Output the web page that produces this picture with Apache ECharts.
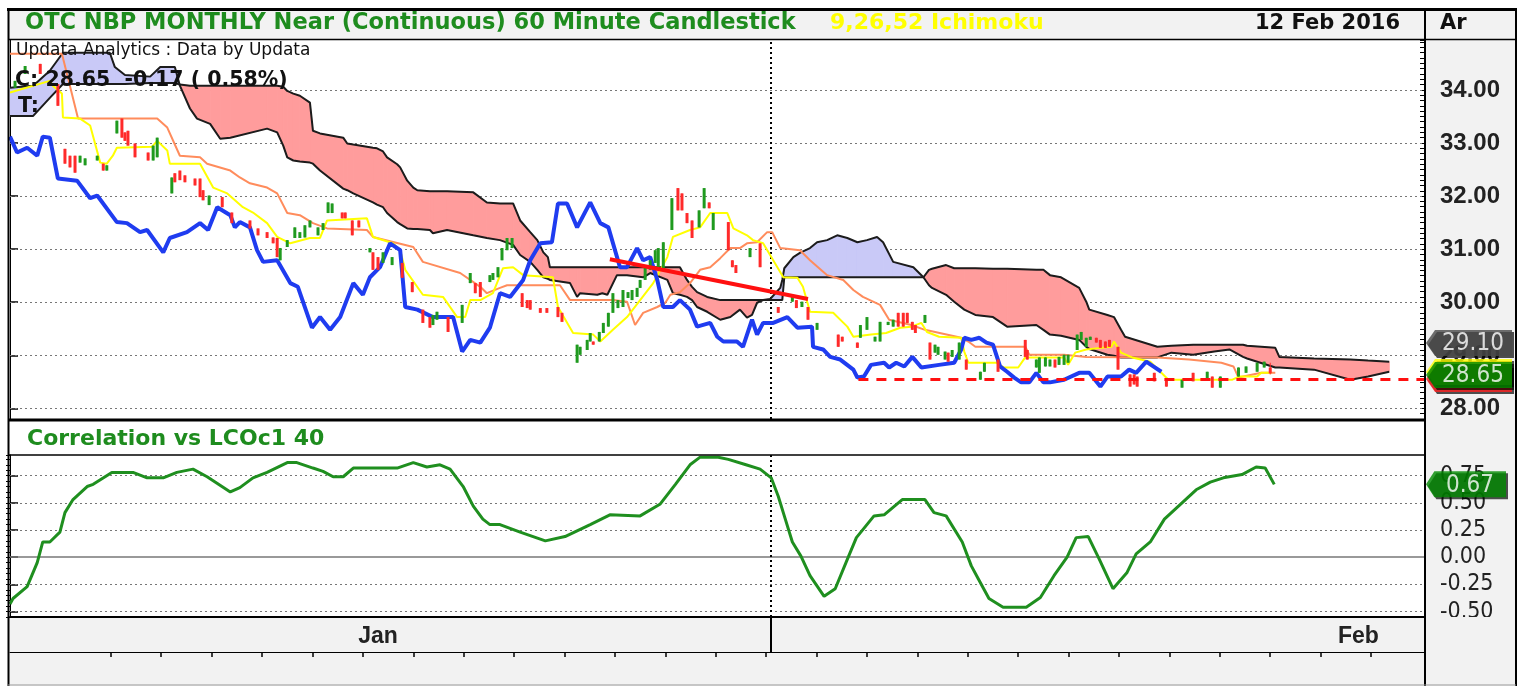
<!DOCTYPE html>
<html>
<head>
<meta charset="utf-8">
<title>OTC NBP MONTHLY Near (Continuous) 60 Minute Candlestick</title>
<script src="https://cdn.jsdelivr.net/npm/echarts@6.0.0/dist/echarts.min.js"></script>
<style>
  html, body { margin: 0; padding: 0; background: #ffffff; }
  #chart { width: 1520px; height: 686px; }
</style>
</head>
<body>
<div id="chart"></div>
<script>
// x = hourly bar index (about ten bars to a trading day)
const xMax = 280.5
const dayTicks = [20, 30, 40, 50, 60, 70, 80, 90, 100, 110, 120, 130, 140, 150, 160, 170, 180, 190, 200, 210, 220, 230, 240, 250, 260, 270]
const monthPos = [73, 267.5]
const monthNames = ['Jan', 'Feb']
const monthStart = [151]

const priceTicks = [28, 29, 30, 31, 32, 33, 34]
const corrTicks = [-0.5, -0.25, 0, 0.25, 0.5, 0.75]

// [bar, open, close, low, high]
const candles = [
  [1.0, 34.04, 34.17, 34.04, 34.17], [3.0, 34.30, 34.45, 34.30, 34.45], [6.0, 34.49, 34.30, 34.30, 34.49],
  [9.5, 34.11, 33.70, 33.70, 34.11], [10.9, 32.89, 32.61, 32.61, 32.89], [11.9, 32.76, 32.54, 32.54, 32.76],
  [12.9, 32.76, 32.44, 32.44, 32.76], [13.9, 32.63, 32.76, 32.63, 32.76], [14.9, 32.58, 32.71, 32.58, 32.71],
  [17.3, 32.67, 32.76, 32.67, 32.76], [18.5, 32.61, 32.48, 32.48, 32.61], [19.2, 32.48, 32.58, 32.48, 32.58],
  [21.2, 33.18, 33.42, 33.18, 33.42], [22.2, 33.46, 33.10, 33.10, 33.46], [22.8, 33.20, 33.04, 33.04, 33.20],
  [23.4, 33.23, 32.95, 32.95, 33.23], [24.8, 32.99, 32.73, 32.73, 32.99], [27.4, 32.82, 32.67, 32.67, 32.82],
  [28.4, 32.67, 32.95, 32.67, 32.95], [29.2, 32.73, 33.10, 32.73, 33.10], [32.1, 32.05, 32.35, 32.05, 32.35],
  [32.7, 32.43, 32.26, 32.26, 32.43], [33.7, 32.48, 32.30, 32.30, 32.48], [34.7, 32.39, 32.26, 32.26, 32.39],
  [36.7, 32.33, 32.20, 32.20, 32.33], [37.7, 32.33, 31.98, 31.98, 32.33], [38.3, 32.11, 31.92, 31.92, 32.11],
  [39.5, 31.83, 32.01, 31.83, 32.01], [42.1, 31.98, 31.79, 31.79, 31.98], [44.0, 31.69, 31.49, 31.49, 31.69],
  [47.6, 31.54, 31.39, 31.39, 31.54], [49.2, 31.39, 31.26, 31.26, 31.39], [51.0, 31.32, 31.21, 31.21, 31.32],
  [52.2, 31.22, 31.11, 31.11, 31.22], [53.0, 31.21, 30.85, 30.85, 31.21], [53.6, 30.79, 31.02, 30.79, 31.02],
  [55.0, 31.04, 31.17, 31.04, 31.17], [56.5, 31.21, 31.41, 31.21, 31.41], [57.5, 31.21, 31.32, 31.21, 31.32],
  [58.5, 31.22, 31.45, 31.22, 31.45], [59.5, 31.41, 31.54, 31.41, 31.54], [61.1, 31.26, 31.41, 31.26, 31.41],
  [62.1, 31.36, 31.49, 31.36, 31.49], [63.1, 31.68, 31.88, 31.68, 31.88], [63.9, 31.68, 31.86, 31.68, 31.86],
  [65.9, 31.69, 31.58, 31.58, 31.69], [66.5, 31.69, 31.58, 31.58, 31.69], [67.9, 31.54, 31.26, 31.26, 31.54],
  [69.2, 31.54, 31.41, 31.41, 31.54], [71.4, 30.94, 31.02, 30.94, 31.02], [72.0, 30.94, 30.61, 30.61, 30.94],
  [73.0, 30.85, 30.61, 30.61, 30.85], [74.0, 30.74, 30.94, 30.74, 30.94], [75.8, 30.70, 30.85, 30.70, 30.85],
  [77.8, 30.74, 30.46, 30.46, 30.74], [79.8, 30.38, 30.19, 30.19, 30.38], [81.9, 29.86, 29.61, 29.61, 29.86],
  [83.3, 29.72, 29.52, 29.52, 29.72], [83.9, 29.57, 29.76, 29.57, 29.76], [84.7, 29.67, 29.82, 29.67, 29.82],
  [86.9, 29.72, 29.44, 29.44, 29.72], [89.7, 29.61, 29.95, 29.61, 29.95], [91.3, 30.36, 30.55, 30.36, 30.55],
  [92.3, 30.36, 30.17, 30.17, 30.36], [93.3, 30.38, 30.10, 30.10, 30.38], [95.2, 30.38, 30.51, 30.38, 30.51],
  [95.8, 30.42, 30.55, 30.42, 30.55], [96.8, 30.47, 30.66, 30.47, 30.66], [97.6, 30.79, 31.02, 30.79, 31.02],
  [98.6, 30.98, 31.21, 30.98, 31.21], [99.6, 31.02, 31.21, 31.02, 31.21], [101.6, 30.17, 29.91, 29.91, 30.17],
  [102.6, 30.04, 29.89, 29.89, 30.04], [103.2, 30.04, 29.86, 29.86, 30.04], [105.2, 29.89, 29.80, 29.80, 29.89],
  [106.5, 29.89, 29.80, 29.80, 29.89], [108.7, 29.91, 29.72, 29.72, 29.91], [109.5, 29.80, 29.63, 29.63, 29.80],
  [112.5, 28.86, 29.20, 28.86, 29.20], [113.1, 29.01, 29.16, 29.01, 29.16], [114.5, 29.10, 29.29, 29.10, 29.29],
  [115.1, 29.26, 29.42, 29.26, 29.42], [115.7, 29.26, 29.20, 29.20, 29.26], [116.9, 29.26, 29.44, 29.26, 29.44],
  [117.7, 29.42, 29.61, 29.42, 29.61], [118.7, 29.54, 29.80, 29.54, 29.80], [119.6, 29.80, 30.17, 29.80, 30.17],
  [120.6, 29.89, 30.04, 29.89, 30.04], [121.6, 29.91, 30.23, 29.91, 30.23], [122.6, 30.08, 30.19, 30.08, 30.19],
  [123.4, 30.04, 30.23, 30.04, 30.23], [124.4, 30.10, 30.27, 30.10, 30.27], [125.0, 30.27, 30.42, 30.27, 30.42],
  [126.0, 30.42, 30.66, 30.42, 30.66], [127.0, 30.61, 30.79, 30.61, 30.79], [128.0, 30.74, 30.98, 30.74, 30.98],
  [128.6, 30.66, 31.02, 30.66, 31.02], [129.6, 30.61, 31.13, 30.61, 31.13], [131.3, 31.36, 31.96, 31.36, 31.96],
  [132.5, 32.15, 31.73, 31.73, 32.15], [133.3, 32.05, 31.73, 31.73, 32.05], [134.3, 31.68, 31.49, 31.49, 31.68],
  [135.3, 31.54, 31.21, 31.21, 31.54], [136.7, 31.41, 31.73, 31.41, 31.73], [137.7, 31.77, 32.15, 31.77, 32.15],
  [138.7, 31.88, 31.77, 31.77, 31.88], [139.5, 31.36, 31.68, 31.36, 31.68], [142.5, 31.51, 30.98, 30.98, 31.51],
  [143.3, 30.79, 30.66, 30.66, 30.79], [144.0, 30.70, 30.55, 30.55, 30.70], [146.8, 30.85, 31.02, 30.85, 31.02],
  [148.8, 31.11, 30.66, 30.66, 31.11], [152.4, 29.91, 29.80, 29.80, 29.91], [155.2, 30.01, 30.10, 30.01, 30.10],
  [156.0, 30.04, 29.89, 29.89, 30.04], [157.1, 29.91, 30.01, 29.91, 30.01], [158.3, 29.91, 29.67, 29.67, 29.91],
  [160.1, 29.48, 29.61, 29.48, 29.61], [164.3, 29.39, 29.16, 29.16, 29.39], [165.1, 29.35, 29.26, 29.26, 29.35],
  [168.1, 29.24, 29.14, 29.14, 29.24], [168.7, 29.33, 29.57, 29.33, 29.57], [170.0, 29.48, 29.72, 29.48, 29.72],
  [171.6, 29.26, 29.35, 29.26, 29.35], [172.6, 29.26, 29.63, 29.26, 29.63], [174.2, 29.57, 29.63, 29.57, 29.63],
  [175.2, 29.54, 29.67, 29.54, 29.67], [176.2, 29.80, 29.54, 29.54, 29.80], [177.2, 29.80, 29.54, 29.54, 29.80],
  [178.0, 29.80, 29.61, 29.61, 29.80], [179.0, 29.63, 29.48, 29.48, 29.63], [179.6, 29.57, 29.42, 29.42, 29.57],
  [181.5, 29.61, 29.76, 29.61, 29.76], [182.5, 29.24, 28.92, 28.92, 29.24], [183.5, 29.05, 29.20, 29.05, 29.20],
  [184.1, 29.01, 29.16, 29.01, 29.16], [185.5, 28.92, 29.07, 28.92, 29.07], [186.1, 29.05, 28.88, 28.88, 29.05],
  [186.9, 28.97, 29.10, 28.97, 29.10], [188.3, 28.92, 29.24, 28.92, 29.24], [189.7, 28.92, 28.73, 28.73, 28.92],
  [192.5, 28.54, 28.69, 28.54, 28.69], [193.3, 28.69, 28.86, 28.69, 28.86], [196.0, 28.92, 28.69, 28.69, 28.92],
  [201.4, 29.29, 28.97, 28.97, 29.29], [201.8, 29.10, 28.92, 28.92, 29.10], [203.6, 28.77, 28.92, 28.77, 28.92],
  [204.2, 28.67, 28.96, 28.67, 28.96], [205.4, 28.79, 28.96, 28.79, 28.96], [206.3, 28.79, 28.92, 28.79, 28.92],
  [207.3, 28.92, 28.77, 28.77, 28.92], [208.1, 28.82, 28.97, 28.82, 28.97], [209.1, 28.82, 29.01, 28.82, 29.01],
  [209.9, 28.86, 29.01, 28.86, 29.01], [211.7, 29.10, 29.39, 29.10, 29.39], [212.5, 29.29, 29.44, 29.29, 29.44],
  [213.5, 29.16, 29.33, 29.16, 29.33], [214.3, 29.29, 29.35, 29.29, 29.35], [215.5, 29.33, 29.24, 29.24, 29.33],
  [216.3, 29.29, 29.14, 29.14, 29.29], [217.3, 29.26, 29.14, 29.14, 29.26], [218.1, 29.29, 29.16, 29.16, 29.29],
  [219.8, 29.16, 28.73, 28.73, 29.16], [222.2, 28.64, 28.41, 28.41, 28.64], [223.0, 28.64, 28.45, 28.45, 28.64],
  [223.6, 28.60, 28.41, 28.41, 28.60], [227.0, 28.67, 28.51, 28.51, 28.67], [229.4, 28.54, 28.41, 28.41, 28.54],
  [232.5, 28.39, 28.54, 28.39, 28.54], [234.7, 28.67, 28.51, 28.51, 28.67], [237.5, 28.54, 28.69, 28.54, 28.69],
  [238.5, 28.60, 28.39, 28.39, 28.60], [240.1, 28.39, 28.60, 28.39, 28.60], [243.7, 28.60, 28.77, 28.60, 28.77],
  [245.2, 28.67, 28.79, 28.67, 28.79], [247.4, 28.69, 28.86, 28.69, 28.86], [248.8, 28.77, 28.88, 28.77, 28.88],
  [250.0, 28.77, 28.66, 28.64, 28.86]
]

// ichimoku: conversion line (9), base line (26), lagging span
const tenkan = [
  [0, 33.95], [7.9, 34.17], [8.5, 34.08], [10.3, 33.93], [10.5, 33.48], [13.9, 33.46], [15.9, 33.33], [17.9, 32.63],
  [19.2, 32.61], [20.4, 32.76], [21.2, 32.91], [28.2, 32.93], [29.2, 33.04], [31.2, 32.86], [31.7, 32.61], [37.7, 32.61],
  [40.3, 32.16], [43.1, 32.05], [46.2, 31.79], [48.2, 31.69], [51.0, 31.49], [53.0, 31.23], [55.6, 31.11], [59.5, 31.21],
  [61.5, 31.21], [62.9, 31.54], [70.8, 31.58], [72.0, 31.23], [76.0, 31.11], [77.4, 30.98], [78.4, 30.61], [81.9, 30.14],
  [85.9, 30.10], [88.7, 29.72], [90.3, 29.72], [91.3, 30.04], [93.3, 30.04], [95.8, 30.17], [97.8, 30.64], [99.8, 30.66],
  [101.8, 30.51], [107.7, 30.47], [108.7, 29.91], [111.7, 29.42], [115.7, 29.39], [117.1, 29.26], [119.6, 29.48], [122.4, 29.72],
  [125.0, 30.04], [127.6, 30.36], [130.4, 30.85], [131.5, 31.23], [134.9, 31.36], [136.9, 31.41], [138.9, 31.68], [142.3, 31.68],
  [143.5, 31.39], [146.2, 31.26], [147.4, 31.17], [149.4, 31.11], [151.4, 30.79], [153.4, 30.47], [156.2, 30.46], [157.3, 30.29],
  [158.7, 29.82], [163.3, 29.80], [166.1, 29.54], [167.3, 29.35], [170.8, 29.39], [173.8, 29.42], [176.6, 29.52], [178.8, 29.54],
  [180.8, 29.61], [181.9, 29.44], [184.3, 29.35], [188.7, 29.33], [189.3, 29.07], [190.1, 28.86], [195.6, 28.86], [197.2, 28.77],
  [200.0, 28.77], [201.4, 28.96], [209.1, 28.96], [209.9, 28.82], [211.3, 29.05], [213.5, 29.11], [216.3, 29.14], [218.5, 29.16],
  [219.0, 29.26], [220.4, 29.05], [222.6, 28.96], [226.2, 28.88], [228.4, 28.67], [229.8, 28.54], [242.5, 28.54], [243.8, 28.60],
  [247.4, 28.60], [248.2, 28.67], [250.2, 28.67]
]

const kijun = [
  [0, 34.68], [10.3, 34.68], [13.5, 33.46], [29.2, 33.46], [31.2, 33.29], [33.7, 32.76], [37.7, 32.73], [39.1, 32.61],
  [43.7, 32.48], [45.6, 32.35], [47.6, 32.24], [51.0, 32.16], [53.0, 32.05], [55.0, 31.68], [57.5, 31.64], [60.1, 31.49],
  [62.9, 31.39], [70.8, 31.36], [72.0, 31.23], [80.0, 31.04], [81.9, 30.76], [89.3, 30.55], [93.3, 30.29], [94.6, 30.17],
  [97.2, 30.27], [98.6, 30.32], [109.1, 30.32], [111.1, 30.04], [119.6, 30.04], [122.4, 30.01], [124.0, 29.57], [125.6, 29.80],
  [128.4, 29.91], [130.0, 29.99], [131.0, 30.14], [132.9, 30.19], [134.9, 30.36], [136.9, 30.61], [138.9, 30.66], [140.9, 30.83],
  [142.9, 31.02], [144.8, 31.02], [146.2, 31.11], [148.2, 31.13], [150.2, 31.32], [151.2, 31.32], [152.8, 31.02], [156.7, 30.98],
  [158.7, 30.79], [162.1, 30.51], [165.3, 30.42], [167.3, 30.23], [169.2, 30.10], [172.6, 29.95], [174.4, 29.67], [178.8, 29.57],
  [181.5, 29.48], [188.7, 29.33], [190.1, 29.26], [191.5, 29.16], [201.4, 29.16], [202.2, 29.01], [209.1, 29.01], [213.5, 28.97],
  [227.6, 28.96], [233.9, 28.92], [240.3, 28.86], [242.7, 28.79], [243.7, 28.58], [248.2, 28.67], [251.0, 28.67]
]

const chikou = [
  [0, 33.12], [1.4, 32.82], [3.4, 32.91], [5.4, 32.76], [6.5, 33.12], [7.9, 33.10], [9.5, 32.33], [13.3, 32.29],
  [15.9, 31.96], [17.3, 32.01], [21.2, 31.51], [23.2, 31.49], [25.8, 31.32], [27.2, 31.36], [30.4, 30.94], [31.7, 31.21],
  [35.1, 31.32], [37.7, 31.49], [39.3, 31.36], [41.1, 31.79], [43.7, 31.64], [44.6, 31.41], [45.6, 31.51], [47.6, 31.41],
  [49.0, 30.98], [50.2, 30.76], [53.0, 30.79], [55.6, 30.36], [57.1, 30.29], [59.9, 29.52], [61.5, 29.72], [63.5, 29.48],
  [65.5, 29.72], [68.1, 30.36], [70.0, 30.14], [71.4, 30.47], [73.4, 30.66], [75.4, 31.11], [77.4, 30.98], [78.4, 29.91],
  [80.8, 29.86], [83.9, 29.72], [87.9, 29.72], [89.7, 29.07], [91.3, 29.29], [93.3, 29.24], [95.2, 29.52], [97.2, 30.17],
  [99.2, 30.10], [101.8, 30.42], [103.2, 30.79], [105.2, 31.11], [107.5, 31.13], [108.7, 31.86], [110.5, 31.86], [112.5, 31.41],
  [115.1, 31.88], [117.1, 31.49], [118.7, 31.41], [121.0, 30.66], [122.4, 30.66], [124.4, 31.02], [125.6, 30.79], [127.0, 30.85],
  [128.4, 30.42], [129.6, 29.91], [131.5, 29.91], [132.9, 30.04], [134.9, 29.86], [136.3, 29.54], [138.9, 29.61], [140.3, 29.35],
  [141.5, 29.26], [144.2, 29.26], [145.4, 29.16], [147.2, 29.67], [148.2, 29.39], [149.4, 29.61], [151.4, 29.61], [154.2, 29.72],
  [156.2, 29.52], [159.1, 29.54], [159.3, 29.16], [161.3, 29.11], [162.7, 28.97], [164.7, 28.92], [167.3, 28.73], [168.1, 28.58],
  [169.4, 28.60], [170.8, 28.82], [173.4, 28.86], [174.4, 28.77], [175.8, 28.86], [177.4, 28.79], [179.0, 28.97], [180.8, 28.77],
  [184.3, 28.82], [187.3, 28.86], [188.7, 29.11], [189.3, 29.33], [190.7, 29.29], [192.3, 29.33], [193.7, 29.24], [195.0, 29.20],
  [196.4, 28.79], [197.8, 28.69], [199.2, 28.58], [200.6, 28.49], [202.2, 28.49], [203.6, 28.67], [205.0, 28.49], [206.3, 28.49],
  [209.1, 28.54], [212.1, 28.67], [214.1, 28.67], [216.3, 28.41], [217.7, 28.60], [220.4, 28.60], [222.0, 28.73], [223.4, 28.67],
  [225.4, 28.88], [226.8, 28.79], [228.4, 28.69]
]

// cloud, shifted 26 bars forward: leading span A and leading span B
const cloudX = [
  0, 4.6, 7.9, 10.5, 19.8, 20.8, 22.8, 27.8, 29.8, 32.7,
  33.7, 35.7, 37.1, 39.7, 41.7, 43.7, 51.0, 53.0, 54.2, 55.0,
  56.2, 57.5, 59.5, 60.1, 61.5, 66.1, 66.9, 68.1, 72.0, 72.8,
  74.0, 74.8, 76.8, 77.4, 78.8, 80.0, 80.8, 83.3, 83.9, 86.7,
  91.9, 94.6, 97.2, 99.8, 101.2, 103.2, 104.6, 105.8, 106.7, 107.1,
  111.1, 112.5, 113.1, 116.5, 117.5, 118.5, 120.4, 122.4, 125.6, 127.0,
  130.4, 131.5, 132.9, 134.3, 135.3, 136.3, 138.3, 140.9, 142.9, 144.8,
  146.2, 147.2, 148.2, 149.4, 150.8, 152.8, 153.2, 153.6, 153.8, 155.4,
  156.7, 158.7, 160.1, 162.1, 164.1, 166.1, 168.1, 170.0, 172.0, 173.2,
  175.2, 179.2, 181.2, 182.3, 182.9, 185.7, 187.3, 189.3, 191.5, 195.0,
  197.8, 203.6, 205.0, 206.3, 208.5, 212.1, 213.5, 214.1, 217.7, 219.0,
  220.4, 221.2, 227.6, 230.4, 234.7, 238.9, 241.9, 244.6, 245.4, 251.0,
  251.8, 258.7, 265.9, 269.4, 273.6
]
const spanA = [
  34.04, 34.08, 34.36, 34.70, 34.70, 34.43, 34.28, 34.25, 34.43, 34.43,
  34.08, 33.65, 33.46, 33.36, 33.08, 33.10, 33.27, 33.20, 32.95, 32.73,
  32.67, 32.65, 32.63, 32.61, 32.48, 32.14, 32.11, 32.05, 31.88, 31.84,
  31.79, 31.68, 31.51, 31.47, 31.39, 31.38, 31.38, 31.36, 31.30, 31.36,
  31.26, 31.21, 31.17, 31.08, 30.89, 30.76, 30.61, 30.47, 30.44, 30.42,
  30.36, 30.10, 30.17, 30.14, 30.17, 30.14, 30.51, 30.51, 30.47, 30.55,
  30.42, 30.17, 30.14, 30.10, 30.04, 29.91, 29.82, 29.67, 29.72, 29.86,
  29.71, 29.76, 29.99, 30.04, 30.06, 30.27, 30.42, 30.64, 30.66, 30.85,
  30.93, 31.02, 31.13, 31.17, 31.26, 31.21, 31.13, 31.17, 31.23, 31.13,
  30.76, 30.66, 30.47, 30.32, 30.27, 30.14, 30.01, 29.86, 29.76, 29.72,
  29.54, 29.57, 29.48, 29.39, 29.37, 29.29, 29.16, 29.12, 29.01, 28.99,
  28.96, 28.96, 28.96, 29.05, 29.01, 29.07, 29.11, 28.97, 28.94, 28.77,
  28.77, 28.73, 28.54, 28.60, 28.69
]
const spanB = [
  33.51, 33.51, 33.85, 34.11, 34.11, 34.11, 34.11, 34.13, 34.13, 34.13,
  34.10, 34.08, 34.08, 34.08, 34.08, 34.08, 34.08, 34.08, 34.06, 33.98,
  33.93, 33.89, 33.76, 33.23, 33.18, 33.10, 32.99, 32.97, 32.91, 32.90,
  32.84, 32.73, 32.60, 32.54, 32.29, 32.16, 32.11, 32.09, 32.09, 32.09,
  32.07, 31.88, 31.86, 31.86, 31.54, 31.32, 31.17, 30.94, 30.85, 30.66,
  30.66, 30.66, 30.66, 30.66, 30.66, 30.66, 30.66, 30.66, 30.66, 30.66,
  30.66, 30.66, 30.66, 30.42, 30.29, 30.19, 30.10, 30.04, 30.04, 30.04,
  30.04, 30.04, 30.04, 30.04, 30.04, 30.04, 30.04, 30.47, 30.47, 30.47,
  30.47, 30.47, 30.47, 30.47, 30.47, 30.47, 30.47, 30.47, 30.47, 30.47,
  30.47, 30.47, 30.47, 30.61, 30.63, 30.70, 30.64, 30.64, 30.64, 30.63,
  30.63, 30.61, 30.61, 30.51, 30.47, 30.27, 30.01, 29.86, 29.76, 29.72,
  29.48, 29.35, 29.16, 29.18, 29.20, 29.20, 29.20, 29.20, 29.18, 29.14,
  28.97, 28.94, 28.92, 28.90, 28.88
]

// drawn studies: falling trend line and support level
const trendLine = [[119.0, 30.81], [158.3, 30.06]]
const supportLine = [[168.3, 28.54], [xMax, 28.54]]

// correlation vs LCOc1, 40 bars
const corr = [
  [0, -0.43], [0.6, -0.38], [3.4, -0.27], [5.4, -0.05], [6.5, 0.14], [7.9, 0.14], [9.9, 0.23], [10.9, 0.41],
  [12.5, 0.53], [15.3, 0.65], [16.5, 0.67], [20.2, 0.78], [24.4, 0.78], [27.2, 0.73], [30.4, 0.73], [33.1, 0.78],
  [36.3, 0.81], [39.1, 0.74], [43.7, 0.60], [45.6, 0.64], [48.2, 0.73], [51.0, 0.78], [55.0, 0.87], [56.9, 0.87],
  [60.1, 0.82], [62.1, 0.79], [64.1, 0.74], [66.1, 0.74], [68.1, 0.82], [76.8, 0.82], [80.0, 0.87], [82.7, 0.83],
  [85.3, 0.85], [87.3, 0.81], [89.9, 0.65], [91.9, 0.47], [93.8, 0.35], [95.2, 0.30], [97.2, 0.30], [101.2, 0.23],
  [106.2, 0.15], [110.1, 0.19], [115.1, 0.30], [119.0, 0.39], [125.0, 0.38], [129.0, 0.49], [132.0, 0.67], [134.9, 0.85],
  [136.9, 0.92], [140.5, 0.92], [142.5, 0.90], [146.0, 0.85], [148.8, 0.81], [151.0, 0.73], [152.4, 0.56], [153.8, 0.35],
  [155.2, 0.14], [156.9, 0.01], [158.7, -0.17], [161.5, -0.36], [163.7, -0.29], [166.1, -0.02], [167.9, 0.18], [171.4, 0.38],
  [173.4, 0.39], [177.0, 0.53], [181.5, 0.53], [183.3, 0.41], [185.7, 0.38], [188.9, 0.14], [190.7, -0.08], [192.1, -0.20],
  [194.2, -0.38], [197.0, -0.46], [201.6, -0.46], [204.4, -0.37], [207.1, -0.17], [209.7, 0.00], [211.5, 0.18], [213.9, 0.19],
  [216.1, -0.02], [218.8, -0.29], [221.6, -0.14], [223.4, 0.03], [226.2, 0.14], [229.0, 0.35], [232.5, 0.50], [235.3, 0.62],
  [238.1, 0.69], [240.7, 0.73], [244.4, 0.76], [247.2, 0.83], [249.0, 0.82], [250.8, 0.67]
]

const lastClose = 28.65
const otherLevel = 29.10
const lastCorr = 0.67

const UP = '#1f9a1f'
const DOWN = '#ff2a2a'
const BEAR_CLOUD = '#ff9c9c'
const BULL_CLOUD = '#c9c9f7'
const FLAG = 'path://M0,13 L9,0 L86,0 L86,26 L9,26 Z'
const NARROW = "'Liberation Sans Narrow', 'DejaVu Sans Condensed', sans-serif"
const WIDE = "'DejaVu Sans', sans-serif"

const renderCandle = (params, api) => {
  const x = api.value(0)
  const open = api.value(1)
  const close = api.value(2)
  const hi = api.coord([x, api.value(4)])
  const lo = api.coord([x, api.value(3)])
  const bodyTop = api.coord([x, Math.max(open, close)])
  const bodyBot = api.coord([x, Math.min(open, close)])
  const color = close >= open ? UP : DOWN
  return {
    type: 'group',
    children: [
      { type: 'line', shape: { x1: hi[0], y1: hi[1], x2: lo[0], y2: lo[1] }, style: { stroke: color, lineWidth: 1 } },
      { type: 'rect', shape: { x: hi[0] - 1.5, y: bodyTop[1], width: 3, height: Math.max(1, bodyBot[1] - bodyTop[1]) }, style: { fill: color } }
    ]
  }
}

// fill between the two leading spans, red when A is under B
const renderCloud = (params, api) => {
  const i = params.dataIndex
  if (i >= cloudX.length - 1) return null
  const x0 = cloudX[i], x1 = cloudX[i + 1]
  const a0 = spanA[i], a1 = spanA[i + 1], b0 = spanB[i], b1 = spanB[i + 1]
  const d0 = a0 - b0, d1 = a1 - b1
  const poly = (pts, bull) => {
    const c = bull ? BULL_CLOUD : BEAR_CLOUD
    return { type: 'polygon', shape: { points: pts.map(p => api.coord(p)) }, style: { fill: c, stroke: c, lineWidth: 1 } }
  }
  if (d0 * d1 < 0) {
    const t = d0 / (d0 - d1)
    const xc = x0 + t * (x1 - x0)
    const yc = a0 + t * (a1 - a0)
    return {
      type: 'group',
      children: [poly([[x0, a0], [xc, yc], [x0, b0]], d0 > 0), poly([[xc, yc], [x1, a1], [x1, b1]], d1 > 0)]
    }
  }
  return poly([[x0, a0], [x1, a1], [x1, b1], [x0, b0]], d0 + d1 > 0)
}

const dotted = (color, width) => ({ type: [2, 3], color: color, width: width })

const flagPoint = (value, fill, dy, text) => ({
  value: [xMax, value],
  symbolOffset: [45, dy],
  itemStyle: { color: fill, shadowColor: 'rgba(0,0,0,0.85)', shadowOffsetX: 2, shadowOffsetY: 2, shadowBlur: 0 },
  label: { show: !!text, formatter: text || '' }
})

const headText = (text, left, top, color, size, weight) => ({
  text: text, left: left, top: top, padding: 0,
  textStyle: { color: color, fontSize: size, fontWeight: weight, fontFamily: WIDE }
})

const chart = echarts.init(document.getElementById('chart'))

const option = {
  animation: false,
  backgroundColor: '#ffffff',
  title: [
    headText('OTC NBP MONTHLY Near (Continuous) 60 Minute Candlestick', 25, 12, '#1e8c1e', 22.5, 'bold'),
    headText('9,26,52 Ichimoku', 830, 12, '#ffff00', 22, 'bold'),
    headText('12 Feb 2016', 1255, 13, '#111', 21, 'bold'),
    headText('Ar', 1440, 13, '#111', 21, 'bold'),
    headText('Updata Analytics : Data by Updata', 16, 42, '#111', 17, 'normal'),
    headText('C: 28.65  -0.17 ( 0.58%)', 15, 70, '#111', 20.5, 'bold'),
    headText('T:', 18, 96, '#111', 20.5, 'bold'),
    headText('Correlation vs LCOc1 40', 27, 428, '#1e8c1e', 22, 'bold')
  ],
  grid: [
    { left: 10, top: 40, width: 1414, height: 379, outerBoundsMode: 'none' },
    { left: 10, top: 455, width: 1414, height: 162, outerBoundsMode: 'none' }
  ],
  xAxis: [
    { gridIndex: 0, type: 'value', min: 0, max: xMax, show: false },
    {
      gridIndex: 1, type: 'value', position: 'bottom', min: 0, max: xMax,
      axisLine: { show: true, onZero: false, lineStyle: { color: '#000', width: 2 } },
      axisTick: { show: true, customValues: monthStart, length: 35, lineStyle: { color: '#000', width: 2 } },
      axisLabel: {
        customValues: monthPos,
        formatter: v => monthNames[monthPos.findIndex(p => Math.abs(p - v) < 0.01)] || '',
        margin: 8, color: '#222', fontSize: 23, fontWeight: 'bold', fontFamily: 'Liberation Sans'
      },
      splitLine: { show: false }
    },
    {
      gridIndex: 1, type: 'value', position: 'bottom', min: 0, max: xMax, offset: 35,
      axisLine: { show: true, onZero: false, lineStyle: { color: '#000', width: 1 } },
      axisTick: { show: true, customValues: dayTicks, length: 5, lineStyle: { color: '#000', width: 1.5 } },
      axisLabel: { show: false },
      splitLine: { show: false }
    }
  ],
  yAxis: [
    {
      gridIndex: 0, type: 'value', position: 'right', min: 27.8, max: 34.94,
      axisLine: { show: true, lineStyle: { color: '#000', width: 1 } },
      axisTick: { show: true, customValues: priceTicks, length: 8, lineStyle: { color: '#000', width: 1.5 } },
      axisLabel: {
        customValues: priceTicks, formatter: v => v.toFixed(2), margin: 16,
        color: '#222', fontSize: 24, fontWeight: 'bold', fontFamily: 'Liberation Sans'
      },
      splitLine: { show: false }
    },
    {
      gridIndex: 0, type: 'value', position: 'right', min: 27.8, max: 34.94, interval: 0.1,
      axisLine: { show: false },
      axisTick: { show: true, inside: true, length: 4, lineStyle: { color: '#000' } },
      axisLabel: { show: false },
      splitLine: { show: false }
    },
    {
      gridIndex: 1, type: 'value', position: 'right', min: -0.55, max: 0.94,
      axisLine: { show: true, lineStyle: { color: '#000', width: 1 } },
      axisTick: { show: true, customValues: corrTicks, length: 8, lineStyle: { color: '#000', width: 1.5 } },
      axisLabel: {
        customValues: corrTicks, formatter: v => v.toFixed(2), margin: 16,
        color: '#222', fontSize: 23, fontFamily: NARROW
      },
      splitLine: { show: false }
    },
    {
      gridIndex: 1, type: 'value', position: 'right', min: -0.55, max: 0.94, interval: 0.05,
      axisLine: { show: false },
      axisTick: { show: true, inside: true, length: 4, lineStyle: { color: '#000' } },
      axisLabel: { show: false },
      splitLine: { show: false }
    }
  ],
  series: [
    {
      name: 'Cloud', type: 'custom', xAxisIndex: 0, yAxisIndex: 0, z: 2, silent: true,
      renderItem: renderCloud,
      encode: { x: 0, y: [1, 2] },
      data: cloudX.map((x, i) => [x, spanA[i], spanB[i]])
    },
    {
      name: 'Leading span A', type: 'line', xAxisIndex: 0, yAxisIndex: 0, z: 3, silent: true,
      symbol: 'none', lineStyle: { color: '#1c1c1c', width: 2 },
      data: cloudX.map((x, i) => [x, spanA[i]])
    },
    {
      name: 'Leading span B', type: 'line', xAxisIndex: 0, yAxisIndex: 0, z: 3, silent: true,
      symbol: 'none', lineStyle: { color: '#1c1c1c', width: 2 },
      data: cloudX.map((x, i) => [x, spanB[i]]),
      markLine: {
        silent: true, z: 1, symbol: ['none', 'none'], label: { show: false },
        data: priceTicks.map(v => ({ yAxis: v, lineStyle: dotted('#777', 1) }))
          .concat(monthStart.map(v => ({ xAxis: v, lineStyle: dotted('#000', 2) })))
      }
    },
    {
      name: 'Base line', type: 'line', xAxisIndex: 0, yAxisIndex: 0, z: 4, silent: true,
      symbol: 'none', lineStyle: { color: '#ff8c5c', width: 2 },
      data: kijun
    },
    {
      name: 'Conversion line', type: 'line', xAxisIndex: 0, yAxisIndex: 0, z: 4, silent: true,
      symbol: 'none', lineStyle: { color: '#ffff00', width: 2 },
      data: tenkan,
      markLine: {
        silent: true, z: 10, symbol: ['none', 'none'], label: { show: false },
        data: [
          [{ coord: trendLine[0], lineStyle: { color: '#ff1010', width: 4, type: 'solid' } }, { coord: trendLine[1] }],
          [{ coord: supportLine[0], lineStyle: { color: '#ff1010', width: 3, type: [10, 8] } }, { coord: supportLine[1] }]
        ]
      }
    },
    {
      name: 'Lagging span', type: 'line', xAxisIndex: 0, yAxisIndex: 0, z: 5, silent: true,
      symbol: 'none', lineStyle: { color: '#1f3cf0', width: 4 },
      data: chikou
    },
    {
      name: 'Price', type: 'custom', xAxisIndex: 0, yAxisIndex: 0, z: 6, silent: true,
      renderItem: renderCandle,
      encode: { x: 0, y: [1, 2, 3, 4] },
      data: candles
    },
    {
      name: 'Price flags', type: 'scatter', xAxisIndex: 0, yAxisIndex: 0, z: 20, silent: true, clip: false,
      symbol: FLAG, symbolSize: [86, 26], symbolKeepAspect: false,
      label: { show: true, position: 'inside', offset: [4, 1], color: '#fff', fontSize: 24, fontFamily: NARROW },
      data: [
        flagPoint(otherLevel, '#4a4a4a', -7, otherLevel.toFixed(2)),
        flagPoint(lastClose, '#ff2020', 5),
        flagPoint(lastClose, '#ffff00', -2),
        flagPoint(lastClose, '#008a00', 1, lastClose.toFixed(2))
      ]
    },
    {
      name: 'Correlation', type: 'line', xAxisIndex: 1, yAxisIndex: 2, z: 4, silent: true,
      symbol: 'none', lineStyle: { color: '#1f8f1f', width: 3 },
      data: corr,
      markLine: {
        silent: true, z: 1, symbol: ['none', 'none'], label: { show: false },
        data: corrTicks.map(v => ({ yAxis: v, lineStyle: v === 0 ? { type: 'solid', color: '#777', width: 1.5 } : dotted('#777', 1) }))
          .concat(monthStart.map(v => ({ xAxis: v, lineStyle: dotted('#000', 2) })))
      }
    },
    {
      name: 'Correlation flag', type: 'scatter', xAxisIndex: 1, yAxisIndex: 2, z: 20, silent: true, clip: false,
      symbol: FLAG, symbolSize: [80, 26], symbolKeepAspect: false,
      label: { show: true, position: 'inside', offset: [4, 1], color: '#fff', fontSize: 24, fontFamily: NARROW },
      data: [{
        value: [xMax, lastCorr], symbolOffset: [42, 0],
        itemStyle: { color: '#008a00', shadowColor: 'rgba(0,0,0,0.85)', shadowOffsetX: 2, shadowOffsetY: 2, shadowBlur: 0 },
        label: { formatter: lastCorr.toFixed(2) }
      }]
    }
  ],
  graphic: [
    // panel backgrounds
    { type: 'rect', z: -1, silent: true, shape: { x: 9, y: 10, width: 1416, height: 29 }, style: { fill: '#f2f2f2' } },
    { type: 'rect', z: -1, silent: true, shape: { x: 1425, y: 10, width: 91, height: 676 }, style: { fill: '#f2f2f2' } },
    { type: 'rect', z: -1, silent: true, shape: { x: 9, y: 617, width: 1416, height: 69 }, style: { fill: '#f2f2f2' } },
    // axis labels are cut at the panel edges
    { type: 'rect', z: 50, silent: true, shape: { x: 1427, y: 421, width: 88, height: 33 }, style: { fill: '#f2f2f2' } },
    { type: 'rect', z: 50, silent: true, shape: { x: 1427, y: 617, width: 88, height: 68 }, style: { fill: '#f2f2f2' } },
    // frame
    { type: 'line', z: 100, silent: true, shape: { x1: 7, y1: 9.5, x2: 1517, y2: 9.5 }, style: { stroke: '#000', lineWidth: 3 } },
    { type: 'line', z: 100, silent: true, shape: { x1: 8.5, y1: 8, x2: 8.5, y2: 686 }, style: { stroke: '#000', lineWidth: 2 } },
    { type: 'line', z: 100, silent: true, shape: { x1: 1516, y1: 8, x2: 1516, y2: 686 }, style: { stroke: '#000', lineWidth: 2 } },
    { type: 'line', z: 100, silent: true, shape: { x1: 1425, y1: 8, x2: 1425, y2: 686 }, style: { stroke: '#000', lineWidth: 2 } },
    { type: 'line', z: 100, silent: true, shape: { x1: 8, y1: 39.5, x2: 1516, y2: 39.5 }, style: { stroke: '#000', lineWidth: 1.5 } },
    { type: 'line', z: 100, silent: true, shape: { x1: 8, y1: 420, x2: 1425, y2: 420 }, style: { stroke: '#000', lineWidth: 3 } },
    { type: 'line', z: 100, silent: true, shape: { x1: 8, y1: 455, x2: 1425, y2: 455 }, style: { stroke: '#000', lineWidth: 1.5 } },
    { type: 'line', z: 100, silent: true, shape: { x1: 8, y1: 685, x2: 1516, y2: 685 }, style: { stroke: '#999', lineWidth: 1 } }
  ]
}

chart.setOption(option)
window.addEventListener('resize', () => chart.resize())
</script>
</body>
</html>
